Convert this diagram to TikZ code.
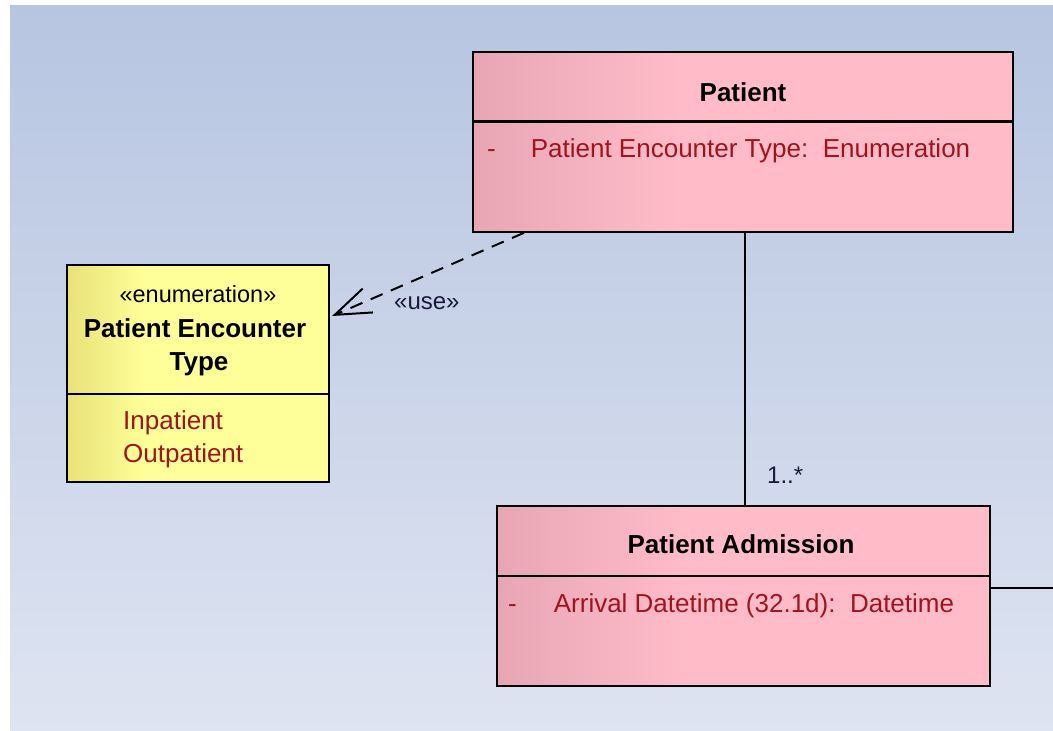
\documentclass[tikz,border=0pt]{standalone}
\usepackage{fontspec}
\setmainfont{Liberation Sans}
\usetikzlibrary{calc,arrows.meta}
\definecolor{bgTop}{RGB}{183,197,225}
\definecolor{bgBot}{RGB}{222,228,241}
\definecolor{pinkL}{RGB}{232,166,180}
\definecolor{pinkR}{RGB}{255,187,200}
\definecolor{yelL}{RGB}{232,226,120}
\definecolor{yelR}{RGB}{255,255,153}
\definecolor{attr}{RGB}{160,20,30}
\definecolor{lbl}{RGB}{25,25,60}
\tikzset{
  umlbox/.style={draw=black, line width=2.2pt, inner sep=0pt, rectangle},
  pinkbox/.style={umlbox, path picture={
      \fill[pinkR] (path picture bounding box.south west) rectangle (path picture bounding box.north east);
      \shade[left color=pinkL, right color=pinkR] (path picture bounding box.south west) rectangle ($(path picture bounding box.north west)!0.38!(path picture bounding box.north east)$);}},
  yelbox/.style={umlbox, path picture={
      \fill[yelR] (path picture bounding box.south west) rectangle (path picture bounding box.north east);
      \shade[left color=yelL, right color=yelR] (path picture bounding box.south west) rectangle ($(path picture bounding box.north west)!0.3!(path picture bounding box.north east)$);}},
  titletext/.style={inner sep=0pt, anchor=base, font=\fontsize{26}{30}\selectfont\bfseries, text=black},
  attrtext/.style={inner sep=0pt, anchor=base west, font=\fontsize{26}{30}\selectfont, text=attr},
  stereo/.style={inner sep=0pt, anchor=base, font=\fontsize{23.5}{28}\selectfont, text=black},
  conlabel/.style={inner sep=0pt, anchor=base west, font=\fontsize{24}{28}\selectfont, text=lbl},
  conline/.style={line width=2pt, draw=black},
  divider/.style={line width=2.2pt, draw=black}
}
\begin{document}
\begin{tikzpicture}[x=1pt,y=-1pt]
\useasboundingbox (0,0) rectangle (1053,731);
\shade[top color=bgTop, bottom color=bgBot] (10,5) rectangle (1053,731);

% boxes
\node[pinkbox, minimum width=540pt, minimum height=179.5pt] (pat) at (743,142) {};
\node[yelbox, minimum width=262pt, minimum height=217pt] (enum) at (198,373.5) {};
\node[pinkbox, minimum width=493pt, minimum height=180pt] (adm) at (743.5,596) {};

% dividers
\draw[divider] (pat.west |- 0,121.5) -- (pat.east |- 0,121.5);
\draw[divider] (enum.west |- 0,394) -- (enum.east |- 0,394);
\draw[divider] (adm.west |- 0,576) -- (adm.east |- 0,576);

% Patient
\node[titletext] (patT) at (743,101) {Patient};
\node[attrtext] (patA) at (487,157) {-\hspace{35pt}Patient Encounter Type:\ \ Enumeration};

% Enumeration
\node[stereo] (enumS) at (198,302) {«enumeration»};
\node[titletext] (enumT1) at (195,337) {Patient Encounter};
\node[titletext] (enumT2) at (199,370) {Type};
\node[attrtext] (lit1) at (123,429) {Inpatient};
\node[attrtext] (lit2) at (123,462) {Outpatient};

% Patient Admission
\node[titletext] (admT) at (741,553) {Patient Admission};
\node[attrtext] (admA) at (508,612) {-\hspace{37pt}Arrival Datetime (32.1d):\ \ Datetime};

% connectors
\draw[conline, dash pattern=on 13pt off 9pt, -{Straight Barb[length=36pt,width=26pt,line width=2pt]}]
  ([xshift=52pt]pat.south west) -- ([yshift=57.5pt,xshift=2pt]enum.east);
\node[conlabel] (useL) at (394,309) {«use»};

\draw[conline] ([xshift=2pt]pat.south) -- ([xshift=2pt]pat.south |- adm.north);
\node[conlabel] (mult) at (767,483) {1..*};

\coordinate (rightend) at (1053,588);
\draw[conline] (adm.east |- rightend) -- (rightend);
\end{tikzpicture}
\end{document}
